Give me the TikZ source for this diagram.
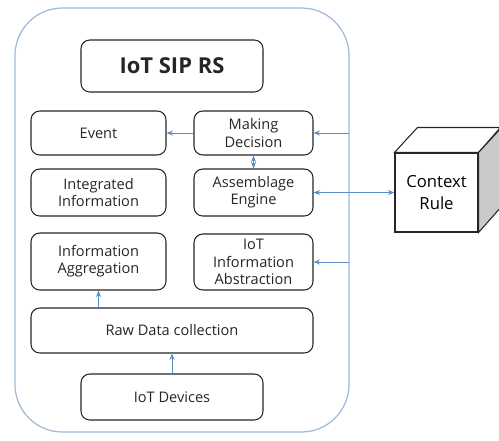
\documentclass[tikz,border=0pt]{standalone}
\usepackage{fontspec}
\setmainfont{Open Sans}
\usetikzlibrary{arrows.meta,calc}
\definecolor{sysink}{HTML}{262626}
\definecolor{sysframe}{HTML}{9DBADD}
\definecolor{sysarrow}{HTML}{5B8BC2}
\definecolor{cubeside}{HTML}{C9C9C9}

\begin{document}
\begin{tikzpicture}[
  x=0.02cm, y=-0.02cm,
  font=\fontsize{8.3}{9.8}\selectfont,
  block/.style={draw=sysink, fill=white, text=sysink, line width=0.6pt,
    rounded corners=5pt, align=center, inner sep=2pt},
  link/.style={draw=sysarrow, line width=0.5pt, -{Stealth[length=1.3mm,width=1mm]}},
  twolink/.style={draw=sysarrow, line width=0.5pt,
    {Stealth[length=1.3mm,width=1mm]}-{Stealth[length=1.3mm,width=1mm]}},
]
\useasboundingbox (0,0) rectangle (499,440);

% ===== outer frame =====
\draw[sysframe, line width=0.7pt, rounded corners=0.95cm] (15,8) rectangle (349,432);

% ===== title =====
\node[block, minimum width=182*0.02cm, minimum height=52*0.02cm,
  font=\fontsize{12.5}{15}\selectfont\bfseries] (title) at (172,66) {IoT SIP RS};

% ===== left column =====
\node[block, minimum width=135*0.02cm, minimum height=44*0.02cm] (event) at (98.5,133) {Event};
\node[block, minimum width=135*0.02cm, minimum height=47*0.02cm] (integ) at (98.5,192.5)
  {Integrated\\Information};
\node[block, minimum width=135*0.02cm, minimum height=57*0.02cm] (aggr) at (98.5,261.5)
  {Information\\Aggregation};

% ===== right column =====
\node[block, minimum width=119*0.02cm, minimum height=44*0.02cm] (decide) at (253.5,133)
  {Making\\Decision};
\node[block, minimum width=119*0.02cm, minimum height=47*0.02cm] (assem) at (253.5,192.5)
  {Assemblage\\Engine};
\node[block, minimum width=119*0.02cm, minimum height=56*0.02cm] (abstr) at (253.5,262)
  {IoT\\Information\\Abstraction};

% ===== bottom =====
\node[block, minimum width=282*0.02cm, minimum height=45*0.02cm] (raw) at (172,330.5)
  {Raw Data collection};
\node[block, minimum width=182*0.02cm, minimum height=46*0.02cm] (devices) at (172,397)
  {IoT Devices};

% ===== context rule cube =====
\node[draw=sysink, fill=white, line width=0.6pt, align=center, inner sep=0pt,
  minimum width=83*0.02cm, minimum height=79*0.02cm, font=\fontsize{9.5}{12}\selectfont]
  (rule) at (436.5,192.5) {Context\\Rule};
\draw[sysink, line width=0.6pt, fill=white]
  (rule.north west) -- ++(23,-25) -- ++(83,0) -- (rule.north east) -- cycle;
\draw[sysink, line width=0.6pt, fill=cubeside]
  (rule.north east) -- ++(23,-25) -- ++(0,79) -- (rule.south east) -- cycle;

% ===== connectors =====
\coordinate (busA) at (349,133);
\coordinate (busC) at (349,262);
\draw[link] (decide) -- (event);
\draw[twolink] (decide) -- (assem);
\draw[link] (busA) -- (decide);
\draw[twolink] (assem) -- (rule);
\draw[link] (busC) -- (abstr);
\draw[link] (raw.north -| aggr) -- (aggr);
\draw[link] (devices) -- (raw);

\end{tikzpicture}
\end{document}
